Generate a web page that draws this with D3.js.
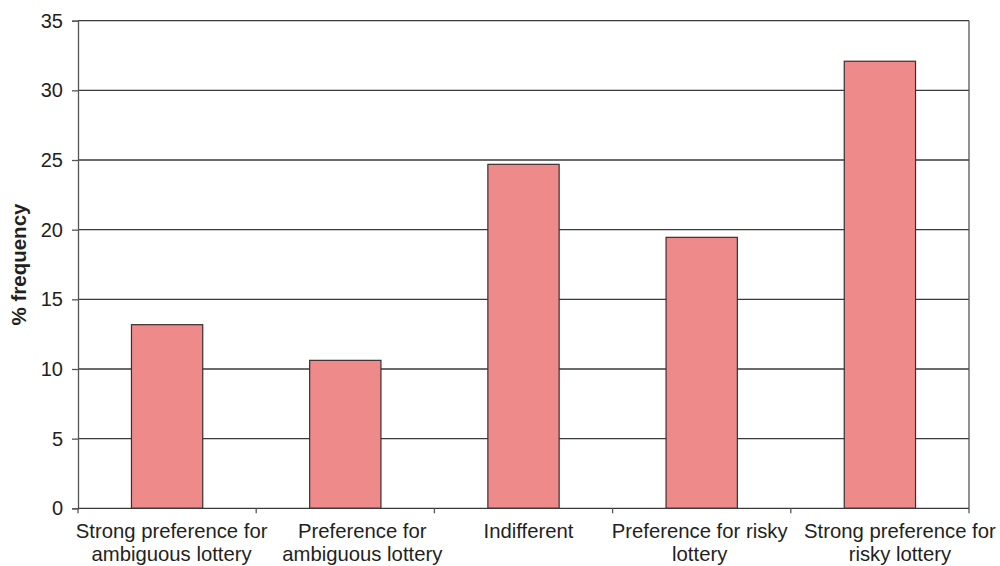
<!DOCTYPE html>
<html>
<head>
<meta charset="utf-8">
<script src="https://cdn.jsdelivr.net/npm/d3@7"></script>
<style>
  body { margin: 0; background: #fff; }
  svg { display: block; }
  text { font-family: "Liberation Sans", Arial, sans-serif; fill: #231f20; }
</style>
</head>
<body>
<svg id="chart" width="1000" height="566"></svg>
<script>
const categories = [
  ["Strong preference for", "ambiguous lottery"],
  ["Preference for", "ambiguous lottery"],
  ["Indifferent"],
  ["Preference for risky", "lottery"],
  ["Strong preference for", "risky lottery"]
];
const values = [13.18, 10.62, 24.69, 19.45, 32.09];
const yTicks = [0, 5, 10, 15, 20, 25, 30, 35];
const yLabel = "% frequency";

(function () {
const svg = d3.select("#chart");
const pL = 78, pR = 969, pT = 20.7, pB = 508.3;
// horizontal nudges of the category labels, as placed in the original figure
const labelNudge = [4.5, 17, 5, -2, 20];

const xb = d3.scaleBand().domain(d3.range(categories.length)).range([pL, pR]);
const y = d3.scaleLinear().domain([0, 35]).range([pB, pT]);

// gridlines
svg.append("g").selectAll("line").data(yTicks.filter(t => t > 0)).join("line")
  .attr("x1", pL).attr("x2", pR)
  .attr("y1", d => y(d)).attr("y2", d => y(d))
  .attr("stroke", "#3a3a3a").attr("stroke-width", 1.3);

// right border
svg.append("line").attr("x1", pR).attr("x2", pR).attr("y1", pT).attr("y2", pB)
  .attr("stroke", "#555").attr("stroke-width", 1.3);

// bars
svg.append("g").selectAll("rect").data(values).join("rect")
  .attr("x", (d, i) => xb(i) + xb.bandwidth() * 0.3)
  .attr("width", xb.bandwidth() * 0.4)
  .attr("y", d => y(d))
  .attr("height", d => pB - y(d))
  .attr("fill", "#ef8a8a")
  .attr("stroke", "#3a2f30").attr("stroke-width", 1.2);

// y axis
const yAxis = d3.axisLeft(y).tickValues(yTicks).tickSize(6).tickPadding(9);
const gy = svg.append("g").attr("transform", `translate(${pL},0)`).call(yAxis);
gy.select(".domain").attr("stroke", "#555").attr("stroke-width", 1.3);
gy.selectAll(".tick line").attr("stroke", "#555").attr("stroke-width", 1.3);
gy.selectAll(".tick text").style("font-size", "20px").attr("fill", "#231f20").attr("font-family", "Liberation Sans, Arial, sans-serif");

// x axis baseline and ticks
svg.append("line").attr("x1", pL).attr("x2", pR).attr("y1", pB).attr("y2", pB)
  .attr("stroke", "#3a3a3a").attr("stroke-width", 1.3);
const bounds = d3.range(categories.length + 1).map(i => i < categories.length ? xb(i) : pR);
svg.append("g").selectAll("line").data(bounds).join("line")
  .attr("x1", d => d).attr("x2", d => d)
  .attr("y1", pB).attr("y2", pB + 5)
  .attr("stroke", "#555").attr("stroke-width", 1.3);

// x labels
const lab = svg.append("g").selectAll("text").data(categories).join("text")
  .attr("x", (d, i) => xb(i) + xb.bandwidth() / 2 + labelNudge[i])
  .attr("y", 538)
  .attr("text-anchor", "middle")
  .style("font-size", "20.3px");
lab.selectAll("tspan").data(d => d).join("tspan")
  .attr("x", function() { return d3.select(this.parentNode).attr("x"); })
  .attr("dy", (d, i) => i === 0 ? 0 : 22.5)
  .text(d => d);

// y label
svg.append("text")
  .attr("transform", `translate(26, ${(pT + pB) / 2}) rotate(-90)`)
  .attr("text-anchor", "middle")
  .style("font-size", "20.5px").style("font-weight", "bold")
  .text(yLabel);
})();
</script>
</body>
</html>
